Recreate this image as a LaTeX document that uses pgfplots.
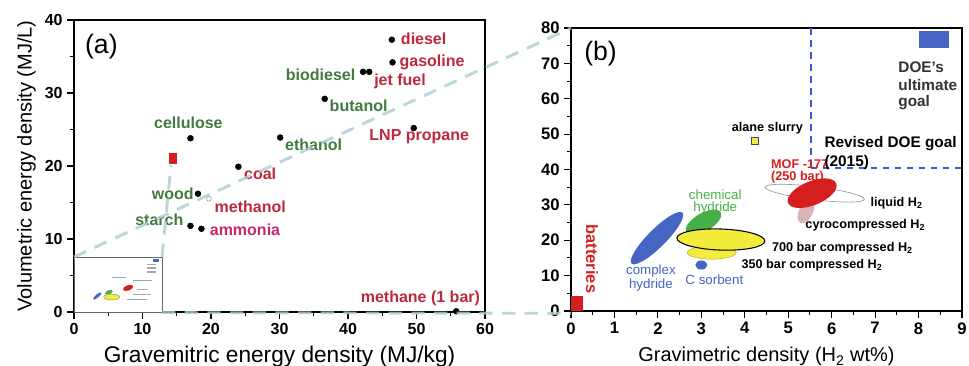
\documentclass[border=0pt]{standalone}
\usepackage{fontspec}
\setmainfont{Liberation Sans}
\usepackage{pgfplots}
\pgfplotsset{compat=1.18}
\definecolor{lgreen}{RGB}{64,122,64}
\definecolor{lred}{RGB}{190,40,60}
\definecolor{lmag}{RGB}{200,40,110}
\definecolor{zoomc}{RGB}{170,205,205}
\definecolor{bblue}{RGB}{70,100,196}
\definecolor{dblue}{RGB}{60,90,215}
\definecolor{bred}{RGB}{214,30,30}
\definecolor{byellow}{RGB}{242,236,60}
\definecolor{bgreen}{RGB}{70,176,70}
\definecolor{bpink}{RGB}{216,180,184}
\newcommand{\fs}[1]{\fontsize{#1}{#1}\selectfont}
\begin{document}
\begin{tikzpicture}
\useasboundingbox (0pt,0pt) rectangle (726.75pt,274.5pt);
% ---------------- panel (a)
\begin{axis}[at={(55.5pt,40.5pt)}, anchor=south west, scale only axis,
  width=308.25pt, height=219pt, xmin=0, xmax=60, ymin=0, ymax=40,
  xtick={0,10,...,60}, ytick={0,10,...,40},
  minor xtick={5,15,...,55}, minor ytick={5,15,25,35},
  tick align=outside, xtick pos=left, ytick pos=left,
  axis line style={line width=1pt}, major tick length=5pt, minor tick length=3pt,
  every tick/.style={black, line width=0.8pt},
  /pgf/number format/assume math mode=true,
  ticklabel style={font=\bfseries\fs{12}},
  xlabel={Gravemitric energy density (MJ/kg)},
  ylabel={Volumetric energy density (MJ/L)},
  xlabel style={font=\fs{17}, yshift=-2pt}, ylabel style={font=\fs{15}},
  clip=false]
% inset
\filldraw[fill=white, draw=black!60, line width=0.4pt] (axis cs:0,0) rectangle (axis cs:12.85,7.5);
\fill[bblue] (axis cs:11.6,6.9) rectangle (axis cs:12.4,7.3);
\fill[bred] (axis cs:7.9,3.3) ellipse [x radius=4pt, y radius=2pt, rotate=20];
\fill[bgreen] (axis cs:5.1,2.7) ellipse [x radius=3pt, y radius=1.5pt, rotate=20];
\filldraw[fill=byellow, draw=black!60, line width=0.2pt] (axis cs:5.5,2.05) ellipse [x radius=6pt, y radius=2.2pt];
\fill[bblue] (axis cs:3.4,2.2) ellipse [x radius=4pt, y radius=1.2pt, rotate=40];
\fill[black!35] (axis cs:10.6,6.4) rectangle (axis cs:12.0,6.6);
\fill[black!35] (axis cs:10.6,5.9) rectangle (axis cs:12.0,6.1);
\fill[black!35] (axis cs:10.6,5.4) rectangle (axis cs:12.0,5.6);
\fill[black!35] (axis cs:5.6,4.6) rectangle (axis cs:7.6,4.8);
\fill[black!35] (axis cs:8.6,4.2) rectangle (axis cs:11.4,4.4);
\fill[black!35] (axis cs:9.2,3.0) rectangle (axis cs:10.8,3.2);
\fill[black!35] (axis cs:8.6,2.3) rectangle (axis cs:11.2,2.5);
\fill[black!35] (axis cs:7.8,1.6) rectangle (axis cs:10.6,1.8);
% red square
\addplot[fill=bred, draw=none] coordinates {(13.9,20.3) (15.0,20.3) (15.0,21.8) (13.9,21.8)} -- cycle;
% fuels
\addplot[only marks, mark=*, mark size=2.2pt, black] coordinates {
 (46.4,37.3) (46.5,34.2) (42.2,32.9) (43.1,32.9) (36.6,29.2) (49.6,25.2)
 (17.0,23.8) (30.1,23.9) (24.0,19.9) (18.1,16.2) (17.0,11.8) (18.6,11.4) (55.8,0.1)};
\addplot[only marks, mark=o, mark size=1.8pt, black!45] coordinates {(19.7,15.5)};
\node[font=\fs{20}] at (axis cs:4,36.3) {(a)};
\begin{scope}[every node/.style={font=\bfseries\fs{12}, inner sep=1pt}]
\node[anchor=west, text=lred] at (axis cs:47.5,37.4) {diesel};
\node[anchor=west, text=lred] at (axis cs:47.3,34.2) {gasoline};
\node[anchor=east, text=lgreen] at (axis cs:41.3,32.5) {biodiesel};
\node[anchor=west, text=lred] at (axis cs:43.6,31.6) {jet fuel};
\node[anchor=west, text=lgreen] at (axis cs:37.1,28.2) {butanol};
\node[anchor=west, text=lred] at (axis cs:42.9,24.0) {LNP propane};
\node[text=lgreen] at (axis cs:16.7,25.9) {cellulose};
\node[anchor=west, text=lgreen] at (axis cs:30.6,22.9) {ethanol};
\node[anchor=west, text=lred] at (axis cs:24.6,19.0) {coal};
\node[anchor=east, text=lgreen] at (axis cs:17.7,16.2) {wood};
\node[anchor=west, text=lred] at (axis cs:20.3,14.4) {methanol};
\node[anchor=east, text=lgreen] at (axis cs:16.2,12.6) {starch};
\node[anchor=west, text=lmag] at (axis cs:19.6,11.2) {ammonia};
\node[anchor=east, text=lred] at (axis cs:59.5,1.9) {methane (1 bar)};
\end{scope}
\end{axis}
% ---------------- panel (b)
\begin{axis}[at={(428.25pt,41.25pt)}, anchor=south west, scale only axis,
  width=293.25pt, height=212.25pt, xmin=0, xmax=9, ymin=0, ymax=80,
  xtick={0,1,...,9}, ytick={0,10,...,80},
  minor xtick={0.5,1.5,...,8.5}, minor ytick={5,15,...,75},
  tick align=outside, xtick pos=left, ytick pos=left,
  axis line style={line width=1pt}, major tick length=5pt, minor tick length=3pt,
  every tick/.style={black, line width=0.8pt},
  /pgf/number format/assume math mode=true,
  ticklabel style={font=\bfseries\fs{12.5}},
  xlabel={Gravimetric density (H\textsubscript{2} wt\%)},
  xlabel style={font=\fs{15}, yshift=-3pt},
  clip=false]
% DOE goals
\addplot[dblue, line width=1.5pt, dash pattern=on 5pt off 4pt] coordinates {(5.52,80) (5.52,40.3)};
\addplot[dblue, line width=1.5pt, dash pattern=on 5pt off 4pt] coordinates {(5.52,40.3) (9,40.3)};
\addplot[fill=bblue, draw=none] coordinates {(8.0,74.3) (8.7,74.3) (8.7,79.1) (8.0,79.1)} -- cycle;
% batteries
\addplot[fill=bred, draw=none] coordinates {(0,0) (0.27,0) (0.27,4.2) (0,4.2)} -- cycle;
% alane slurry
\addplot[only marks, mark=square*, mark size=2.6pt, mark options={fill=byellow, draw=bblue!70!black, line width=0.8pt}] coordinates {(4.23,48.0)};
% ellipses
\fill[bblue] (axis cs:1.98,20.6) ellipse [x radius=27pt, y radius=6.75pt, rotate=45];
\fill[bgreen] (axis cs:3.05,25.1) ellipse [x radius=15pt, y radius=6.75pt, rotate=30];
\filldraw[fill=byellow, draw=byellow!70!black, line width=0.3pt] (axis cs:3.24,16.5) ellipse [x radius=18.4pt, y radius=4.9pt];
\filldraw[fill=byellow, draw=black, line width=0.8pt] (axis cs:3.45,20.2) ellipse [x radius=33pt, y radius=7.9pt, rotate=-2];
\fill[bblue] (axis cs:3.0,13.0) ellipse [x radius=4.5pt, y radius=3.4pt];
\filldraw[fill=white, draw=black!40, line width=0.5pt] (axis cs:5.61,33.3) ellipse [x radius=37.5pt, y radius=4.9pt, rotate=-7];
\fill[bpink] (axis cs:5.41,28.2) ellipse [x radius=9.75pt, y radius=5.25pt, rotate=65];
\fill[bred] (axis cs:5.55,33.3) ellipse [x radius=19.5pt, y radius=9pt, rotate=22];
\node[font=\fs{20}] at (axis cs:0.68,72.9) {(b)};
\begin{scope}[every node/.style={font=\bfseries\fs{9.5}, inner sep=1pt}]
\node at (axis cs:4.52,51.7) {alane slurry};
\node[anchor=west, text=bred] at (axis cs:4.57,41.5) {MOF -177};
\node[anchor=west, text=bred] at (axis cs:4.57,37.9) {(250 bar)};
\node[anchor=west] at (axis cs:6.86,30.5) {liquid H\textsubscript{2}};
\node[anchor=west] at (axis cs:5.36,24.3) {cyrocompressed H\textsubscript{2}};
\node[anchor=west] at (axis cs:4.59,17.8) {700 bar compressed H\textsubscript{2}};
\node[anchor=west] at (axis cs:3.89,13.0) {350 bar compressed H\textsubscript{2}};
\end{scope}
\begin{scope}[every node/.style={font=\bfseries\fs{11.5}, inner sep=1pt, anchor=west}]
\node at (axis cs:5.8,47.4) {Revised DOE goal};
\node at (axis cs:5.8,42.1) {(2015)};
\node[text=black!80] at (axis cs:7.5,68.9) {DOE's};
\node[text=black!80] at (axis cs:7.5,63.8) {ultimate};
\node[text=black!80] at (axis cs:7.5,59.0) {goal};
\end{scope}
\begin{scope}[every node/.style={font=\fs{10}, inner sep=1pt}]
\node[text=bgreen] at (axis cs:3.32,32.8) {chemical};
\node[text=bgreen] at (axis cs:3.32,29.1) {hydride};
\node[text=bblue] at (axis cs:1.84,11.3) {complex};
\node[text=bblue] at (axis cs:1.84,7.3) {hydride};
\node[text=bblue] at (axis cs:3.3,8.8) {C sorbent};
\end{scope}
\node[font=\bfseries\fs{12.3}, text=bred, rotate=-90] at (axis cs:0.48,14.7) {batteries};
\end{axis}
% zoom lines
\begin{scope}[zoomc, line width=2.2pt, dash pattern=on 10pt off 7pt, opacity=0.8]
\draw (55.5pt,81.75pt) -- (428.25pt,253.5pt);
\draw (121.5pt,40pt) -- (428.25pt,39.5pt);
\draw (121.5pt,81.75pt) -- (128.25pt,150.75pt);
\end{scope}
\end{tikzpicture}
\end{document}
